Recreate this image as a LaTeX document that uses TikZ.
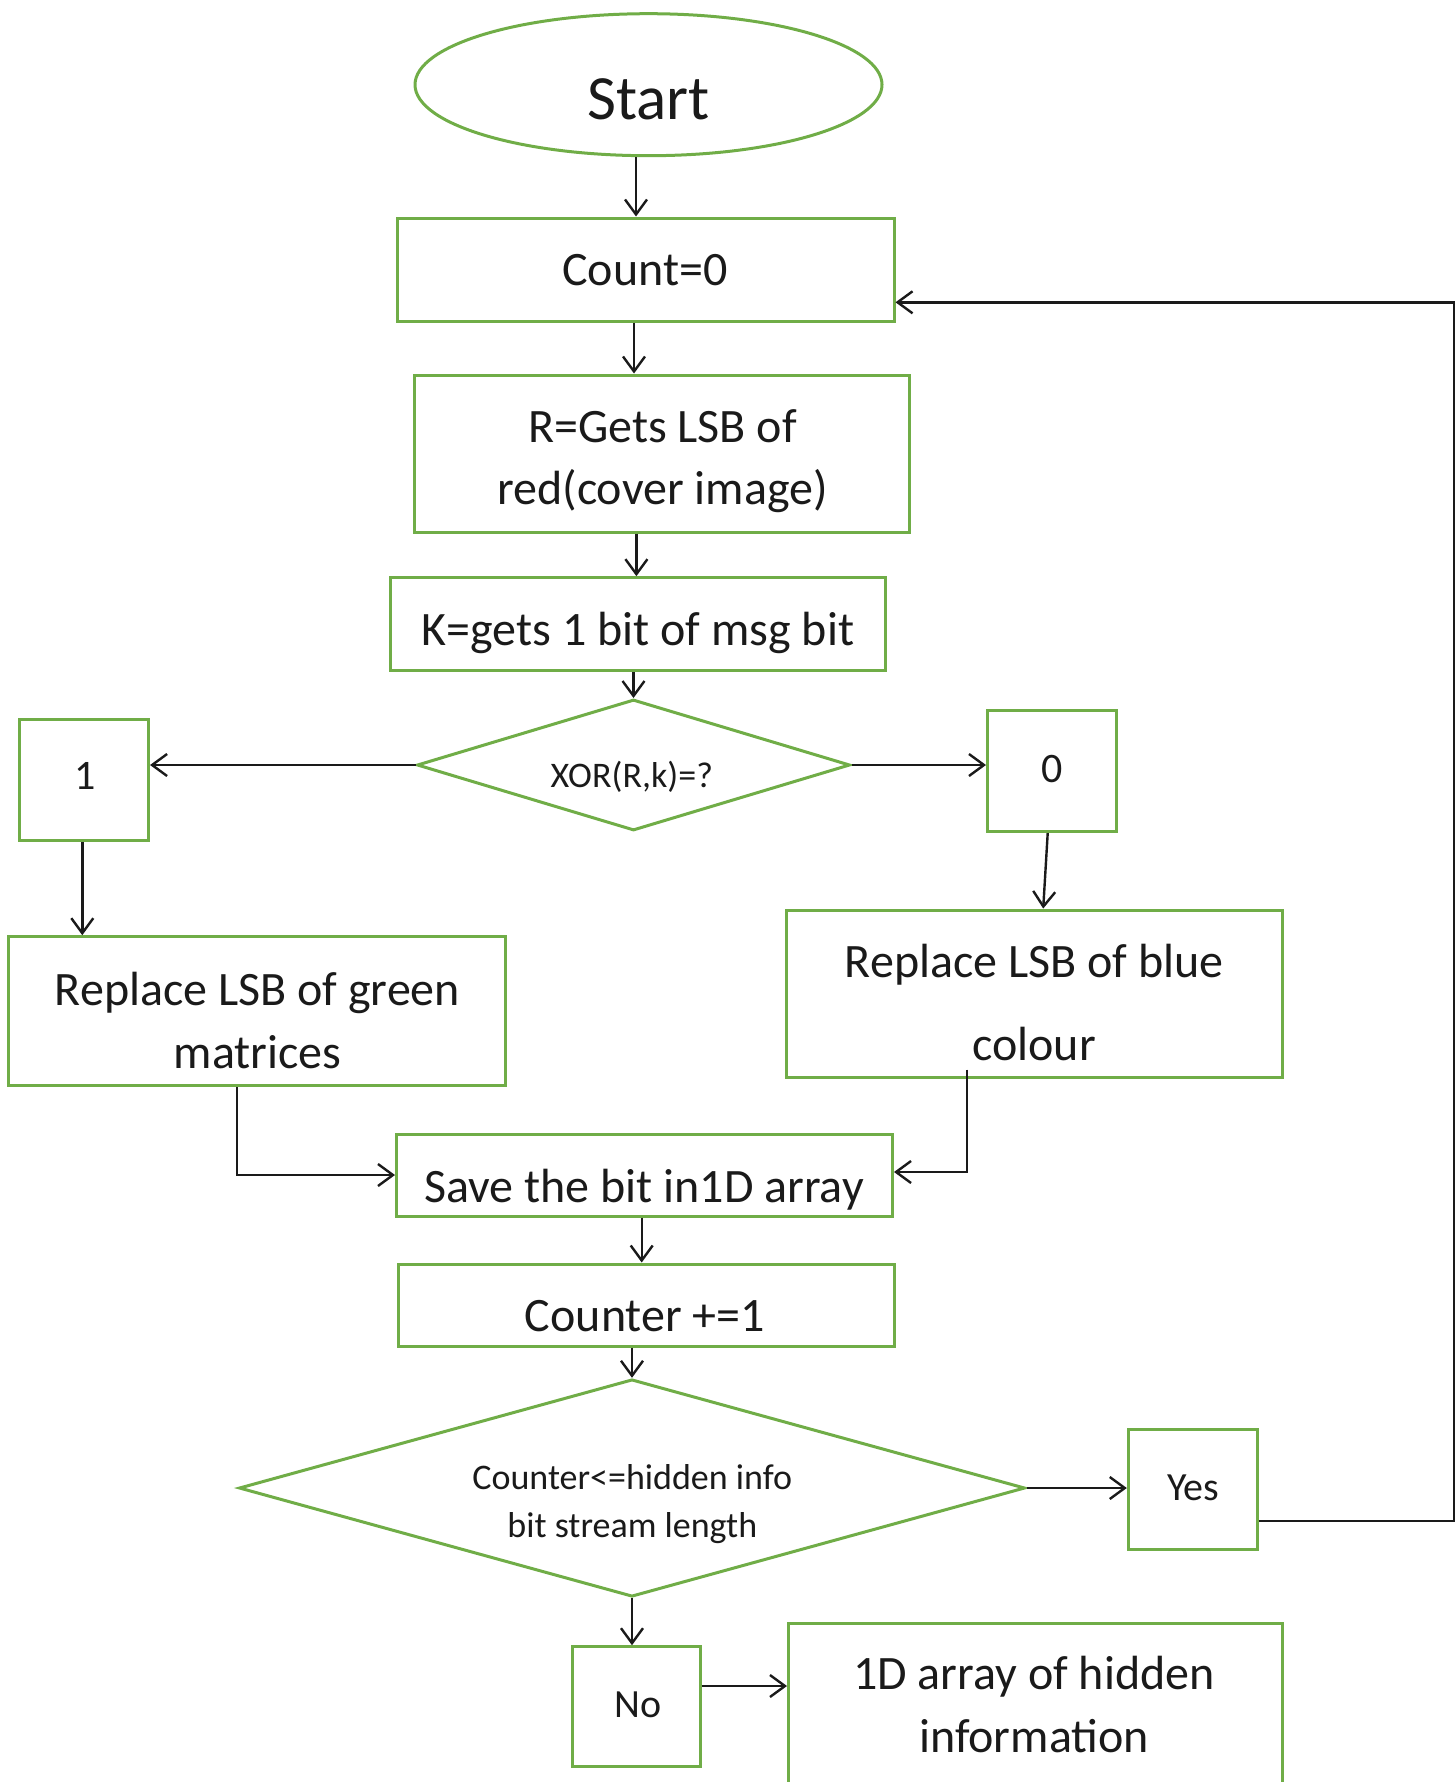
\documentclass[tikz,border=0pt]{standalone}
\usepackage{fontspec}
\setmainfont{Carlito}
\usetikzlibrary{shapes.geometric,arrows.meta}
\definecolor{boxgreen}{HTML}{70AD47}
\definecolor{ink}{HTML}{1A1A1A}

\tikzset{
  flowbox/.style={draw=boxgreen, line width=3pt, rectangle, inner sep=0pt},
  txt/.style={anchor=base, inner sep=0pt, text=ink},
  arr/.style={draw=ink, line width=2.4pt, -{Straight Barb[length=15pt,width=22pt]}},
  big/.style={font=\fontsize{48}{62.7}\selectfont},
}
% two centred lines, first baseline on the node's base anchor
\newcommand{\pairlines}[2]{\begin{tabular}[t]{@{}c@{}}#1\\#2\end{tabular}}

\begin{document}
\begin{tikzpicture}[x=1pt,y=-1pt]
\useasboundingbox (0,0) rectangle (1455,1782);
\clip (0,0) rectangle (1455,1782);

% ---- shapes ----
\node[flowbox, ellipse, minimum width=467pt, minimum height=142pt] (start) at (648.5,84.7) {};
\node[flowbox, minimum width=497pt, minimum height=103pt] (count) at (645.5,269.5) {};
\node[flowbox, minimum width=495pt, minimum height=157pt] (rbox) at (661.5,453.5) {};
\node[flowbox, minimum width=495pt, minimum height=93pt] (kbox) at (637.7,624.2) {};
\node[flowbox, diamond, minimum width=433pt, minimum height=131pt] (xor) at (633.5,765) {};
\node[flowbox, minimum width=129.5pt, minimum height=120.7pt] (one) at (83.8,780.3) {};
\node[flowbox, minimum width=129pt, minimum height=120.7pt] (zero) at (1052,771.3) {};
\node[flowbox, minimum width=496.6pt, minimum height=149pt] (green) at (256.7,1011.2) {};
\node[flowbox, minimum width=496.8pt, minimum height=167.3pt] (blue) at (1034.4,993.7) {};
\node[flowbox, minimum width=496pt, minimum height=82pt] (save) at (644.5,1175) {};
\node[flowbox, minimum width=496.8pt, minimum height=82pt] (counter) at (646.4,1305) {};
\node[flowbox, diamond, minimum width=786pt, minimum height=217.4pt] (bigd) at (632,1488) {};
\node[flowbox, minimum width=129pt, minimum height=120pt] (yes) at (1192.8,1489.3) {};
\node[flowbox, minimum width=128pt, minimum height=120pt] (no) at (636.4,1706.7) {};
\node[flowbox, minimum width=494pt, minimum height=206.7pt] (oned) at (1035.5,1726.65) {};

% ---- texts ----
\node[txt, font=\fontsize{63}{75}\selectfont] (start-t) at (648.5,119.5) {Start};
\node[txt, big] (count-t) at (645,285.5) {Count=0};
\node[txt, font=\fontsize{48}{61.6}\selectfont] (rbox-t) at (662.5,442.5) {\pairlines{R=Gets LSB of}{red(cover image)}};
\node[txt, big] (kbox-t) at (638,645) {K=gets 1 bit of msg bit};
\node[txt, font=\fontsize{36}{44}\selectfont] (xor-t) at (631.7,787) {XOR(R,k)=?};
\node[txt, font=\fontsize{42}{50}\selectfont] (one-t) at (85,789.5) {1};
\node[txt, font=\fontsize{42}{50}\selectfont] (zero-t) at (1052,782) {0};
\node[txt, big] (green-t) at (257.5,1005.5) {\pairlines{Replace LSB of green}{matrices}};
\node[txt, font=\fontsize{48}{83.3}\selectfont] (blue-t) at (1034.2,977.5) {\pairlines{Replace LSB of blue}{colour}};
\node[txt, big] (save-t) at (644,1202) {Save the bit in1D array};
\node[txt, big] (counter-t) at (645,1331) {Counter +=1};
\node[txt, font=\fontsize{36}{48}\selectfont] (bigd-t) at (632.3,1489.5) {\pairlines{Counter<=hidden info}{bit stream length}};
\node[txt, font=\fontsize{40}{48}\selectfont] (yes-t) at (1193.3,1500.5) {Yes};
\node[txt, font=\fontsize{40}{48}\selectfont] (no-t) at (638.4,1717.5) {No};
\node[txt, font=\fontsize{48}{63.4}\selectfont] (oned-t) at (1034,1689) {\pairlines{1D array of hidden}{information}};

% ---- connectors ----
\coordinate (rail) at (1454.3,900);
\coordinate (noout) at ([yshift=20.7pt]no.east);
\coordinate (blueout) at ([xshift=-67.7pt,yshift=9.3pt]blue.south);

\draw[arr] ([xshift=-12.5pt]start.south) -- ([xshift=-9.5pt]count.north);
\draw[arr] ([xshift=-11.5pt]count.south) -- ([xshift=-27.5pt]rbox.north);
\draw[arr] ([xshift=-25.1pt]rbox.south) -- ([xshift=-1.3pt]kbox.north);
\draw[arr] (xor.north |- kbox.south) -- (xor.north);
\draw[arr] (xor.west) -- (xor.west -| one.east);
\draw[arr] (xor.east) -- (xor.east -| zero.west);
\draw[arr] ([xshift=-1.5pt]one.south) -- ([xshift=-1.5pt]one.south |- green.north);
\draw[arr] ([xshift=-4.3pt]zero.south) -- ([xshift=8.8pt]blue.north);
\draw[arr] ([xshift=-19.7pt]green.south) |- (save.west);
\draw[arr] (blueout) |- ([yshift=3pt]save.east);
\draw[arr] ([xshift=-2.8pt]save.south) -- ([xshift=-4.7pt]counter.north);
\draw[arr] (bigd.north |- counter.south) -- (bigd.north);
\draw[arr] (bigd.east) -- (bigd.east -| yes.west);
\draw[arr] (bigd.south) -- (bigd.south |- no.north);
\draw[arr] (noout) -- (noout -| oned.west);
\draw[arr] ([yshift=-31.4pt]yes.east) -| (rail) |- ([yshift=-32.8pt]count.east);
\end{tikzpicture}
\end{document}
